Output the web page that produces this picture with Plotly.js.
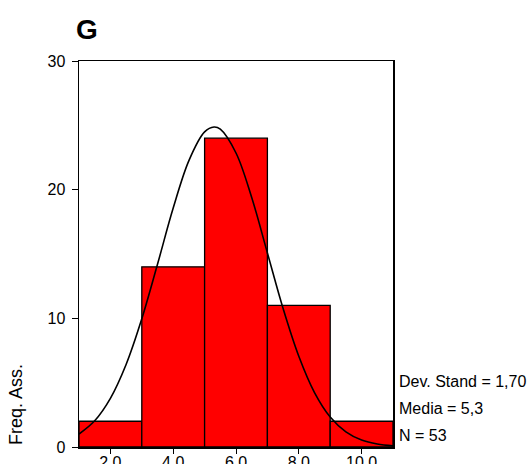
<!DOCTYPE html>
<html><head><meta charset="utf-8">
<script src="https://cdn.plot.ly/plotly-3.0.1.min.js"></script>
<style>html,body{margin:0;padding:0;background:#fff}#c{width:530px;height:464px}</style>
</head><body><div id="c"></div>
<script>
// Histogram bins (centres) and absolute frequencies
const binCentres = [2, 4, 6, 8, 10];
const frequencies = [2, 14, 24, 11, 2];
// Normal curve
const curveX = [1, 1.5, 2, 2.5, 3, 3.5, 4, 4.5, 5, 5.3, 5.5, 6, 6.5, 7, 7.5, 8, 8.5, 9, 9.5, 10, 10.5, 11];
const curveY = [1.01, 2.04, 3.78, 6.41, 9.96, 14.2, 18.57, 22.26, 24.49, 24.87, 24.7, 22.85, 19.39, 15.08, 10.76, 7.05, 4.23, 2.33, 1.18, 0.54, 0.23, 0.09];
const xTickVals = [2, 4, 6, 8, 10];
const xTickText = ["2.0", "4.0", "6.0", "8.0", "10.0"];
const yTickVals = [0, 10, 20, 30];
const statsLines = ["Dev. Stand = 1,70", "Media = 5,3", "N = 53"];

const font = {family: "Arial", color: "#000", size: 16};

const traces = [
  {type: "bar", x: binCentres, y: frequencies, width: 2,
   marker: {color: "#ff0000", line: {color: "#000", width: 1.3}}, hoverinfo: "none"},
  {type: "scatter", mode: "lines", x: curveX, y: curveY,
   line: {color: "#000", width: 1.6, shape: "spline"}, hoverinfo: "none"}
];

const annotations = statsLines.map((t, i) => ({
  text: t, xref: "paper", yref: "paper", x: 1, xanchor: "left", xshift: 4,
  y: 0, yanchor: "middle", yshift: 66 - i * 27, showarrow: false, font: font
}));
annotations.push({
  text: "Freq. Ass.", xref: "paper", yref: "paper", x: 0, xanchor: "center", xshift: -63,
  y: 0, yanchor: "middle", yshift: 42, textangle: -90, showarrow: false,
  font: {family: "Arial", color: "#000", size: 18}
});

const layout = {
  width: 530, height: 464,
  margin: {l: 79, r: 137, t: 61, b: 17, pad: 0},
  paper_bgcolor: "#fff", plot_bgcolor: "#fff",
  showlegend: false, bargap: 0,
  font: font,
  title: {text: "<b>G</b>", x: 76 / 530, xanchor: "left", y: 1 - 29 / 464, yanchor: "middle",
          font: {family: "Arial", size: 28, color: "#000"}},
  xaxis: {range: [1, 11], tickvals: xTickVals, ticktext: xTickText, ticks: "outside", ticklen: 5,
          ticklabelstandoff: -5,
          tickcolor: "#000", showline: true, linecolor: "#000", linewidth: 1.5, mirror: true,
          showgrid: false, zeroline: false, tickfont: font},
  yaxis: {range: [0, 30], tickvals: yTickVals, ticks: "outside", ticklen: 6, tickcolor: "#000",
          ticklabelstandoff: 3,
          showline: true, linecolor: "#000", linewidth: 1.5, mirror: true,
          showgrid: false, zeroline: false, tickfont: font},
  annotations: annotations
};

Plotly.newPlot("c", traces, layout, {staticPlot: true, displayModeBar: false});
</script></body></html>
